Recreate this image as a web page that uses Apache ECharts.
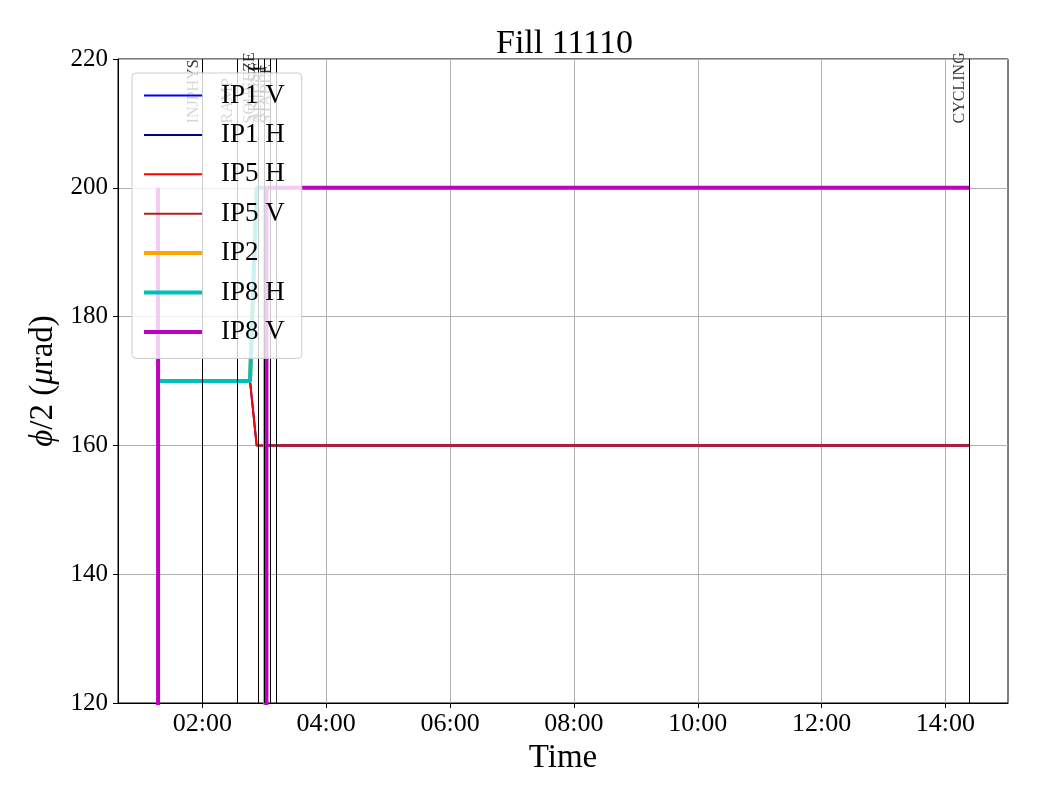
<!DOCTYPE html>
<html><head><meta charset="utf-8">
<script src="https://cdn.jsdelivr.net/npm/echarts@6/dist/echarts.min.js"></script>
<style>html,body{margin:0;padding:0;background:#fff}#c{width:1040px;height:800px}</style>
</head><body><div id="c"></div>
<script>
const FONT = "'Liberation Serif','Times New Roman',serif";

// time in hours of day
const seriesNames = ['IP1 V', 'IP1 H', 'IP5 H', 'IP5 V', 'IP2', 'IP8 H', 'IP8 V'];
const seriesColors = ['#0000ff', '#00008b', '#ff0000', '#b22222', '#ffa500', '#00bfbf', '#bf00bf'];
const seriesWidths = [2, 2, 2, 2, 4, 4, 4];

const ip1V = [[1.285, 0], [3.02, 0], [3.021, 160], [14.385, 160]];
const ip1H = [[1.285, 170], [2.77, 170], [2.877, 160], [14.385, 160]];
const ip5H = [[1.285, 170], [2.77, 170], [2.877, 160], [14.385, 160]];
const ip5V = [[1.285, 0], [3.02, 0], [3.021, 160], [14.385, 160]];
const ip2  = [[1.285, 170], [2.77, 170], [2.877, 200], [3.02, 200], [3.021, 0], [14.385, 0]];
const ip8H = [[1.285, 170], [2.77, 170], [2.877, 200], [3.02, 200], [3.021, 0], [14.385, 0]];
const ip8V = [[1.285, 200], [1.286, 0], [3.035, 0], [3.036, 200], [14.385, 200]];
const seriesData = [ip1V, ip1H, ip5H, ip5V, ip2, ip8H, ip8V];

const eventTimes = [2.0, 2.556, 2.911, 2.996, 3.093, 3.19, 14.385];
const eventNames = ['INJPHYS', 'RAMP', 'SQUEEZE', 'ADJUST', 'ADJUST', 'STABLE', 'CYCLING'];
const eventLabelY = 210;

const xTicks = [2, 4, 6, 8, 10, 12, 14];
const xMin = 0.638, xMax = 15.01;
const yMin = 120, yMax = 220, yStep = 20;

function fmtHour(v) {
  const h = Math.floor(v + 1e-9), m = Math.round((v - h) * 60);
  return String(h).padStart(2, '0') + ':' + String(m).padStart(2, '0');
}

const chart = echarts.init(document.getElementById('c'), null, {renderer: 'canvas'});

const series = seriesNames.map((n, i) => ({
  name: n, type: 'line', data: seriesData[i], showSymbol: false, symbol: 'none',
  lineStyle: {color: seriesColors[i], width: seriesWidths[i]},
  itemStyle: {color: seriesColors[i]}, z: 3, animation: false, clip: true
}));

series.push({
  name: 'events', type: 'scatter', data: eventTimes.map((t, i) => ({value: [t, eventLabelY], label: {formatter: eventNames[i]}})),
  symbolSize: 1, itemStyle: {color: 'rgba(0,0,0,0)'}, z: 2, silent: true, animation: false,
  label: {show: true, position: 'inside', rotate: 90, align: 'left', verticalAlign: 'bottom',
    fontFamily: FONT, fontSize: 16, color: '#000', padding: [0, 0, 1, 0]},
  markLine: {silent: true, symbol: ['none', 'none'], animation: false,
    lineStyle: {color: '#000', width: 1, type: 'solid'}, label: {show: false},
    data: eventTimes.map(t => ({xAxis: t}))}
});

chart.setOption({
  animation: false,
  backgroundColor: '#fff',
  title: {text: 'Fill 11110', left: 491, top: 22, textStyle: {fontFamily: FONT, fontSize: 34, fontWeight: 'normal', color: '#000'}},
  grid: {left: 118, right: 32, top: 59, bottom: 97, show: true, borderColor: '#000', borderWidth: 1, backgroundColor: 'transparent'},
  legend: {
    orient: 'vertical', left: 132, top: 73, padding: [9, 17, 13, 10],
    itemWidth: 58, itemHeight: 26, itemGap: 12.4,
    backgroundColor: 'rgba(255,255,255,0.8)', borderColor: '#cccccc', borderWidth: 1, borderRadius: 4,
    itemStyle: {opacity: 0},
    textStyle: {fontFamily: FONT, fontSize: 27, color: '#000', padding: [0, 0, 0, 14]},
    data: seriesNames.map((n, i) => ({name: n, lineStyle: {width: seriesWidths[i], color: seriesColors[i]}, itemStyle: {opacity: 0}})),
    z: 10
  },
  xAxis: {
    type: 'value', min: xMin, max: xMax,
    name: 'Time', nameLocation: 'middle', nameGap: 28,
    nameTextStyle: {fontFamily: FONT, fontSize: 33, color: '#000'},
    axisLine: {show: true, lineStyle: {color: '#000'}},
    axisTick: {show: true, inside: false, length: 5, lineStyle: {color: '#000'}, customValues: xTicks},
    axisLabel: {customValues: xTicks, formatter: fmtHour, fontFamily: FONT, fontSize: 26, color: '#000', margin: 8},
    splitLine: {show: true, lineStyle: {color: '#b0b0b0', width: 1}}
  },
  yAxis: {
    type: 'value', min: yMin, max: yMax, interval: yStep,
    name: '{i|ϕ}/2 ({i|μ}rad)', nameLocation: 'middle', nameGap: 55,
    nameTextStyle: {fontFamily: FONT, fontSize: 33, color: '#000', rich: {i: {fontFamily: FONT, fontSize: 33, fontStyle: 'italic', color: '#000'}}},
    axisLine: {show: true, lineStyle: {color: '#000'}},
    axisTick: {show: true, inside: false, length: 5, lineStyle: {color: '#000'}},
    axisLabel: {fontFamily: FONT, fontSize: 25, color: '#000', margin: 10},
    splitLine: {show: true, lineStyle: {color: '#b0b0b0', width: 1}}
  },
  series: series
});
</script></body></html>
